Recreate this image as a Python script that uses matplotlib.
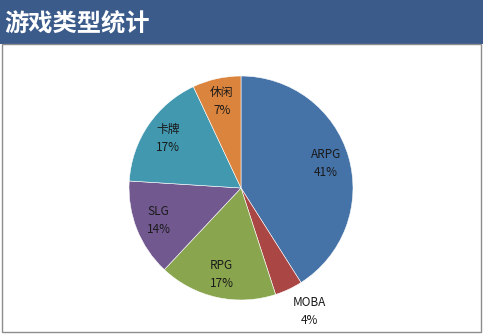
import numpy as np
import matplotlib.pyplot as plt
from matplotlib.patches import Rectangle

plt.rcParams['font.family'] = ['Noto Sans CJK SC', 'DejaVu Sans']

categories = ['ARPG', 'MOBA', 'RPG', 'SLG', '卡牌', '休闲']
shares = [41, 4, 17, 14, 17, 7]
colors = ['#4572A7', '#AA4643', '#89A54E', '#71588F', '#4198AF', '#DB843D']

W, H = 483, 334
fig = plt.figure(figsize=(W / 100, H / 100), dpi=100)
fig.patch.set_facecolor('white')

# header bar and frame around the plot area
fig.patches.append(Rectangle((0, (H - 44) / H), 1, 44 / H, transform=fig.transFigure,
                             facecolor='#3B5B8B', edgecolor='none'))
fig.patches.append(Rectangle((2 / W, 2 / H), (W - 4) / W, (H - 46) / H, transform=fig.transFigure,
                             facecolor='none', edgecolor='#8C8C8C', linewidth=1))
fig.text(4 / W, (H - 23) / H, '游戏类型统计', color='white', fontsize=17.5, fontweight='bold',
         va='center', ha='left')

cx, cy, r = 241, 188, 112
ax = fig.add_axes([(cx - r) / W, (H - cy - r) / H, 2 * r / W, 2 * r / H])
ax.pie(shares, colors=colors, startangle=90, counterclock=False, radius=1,
       wedgeprops=dict(edgecolor='white', linewidth=0.4))
ax.set_xlim(-1, 1)
ax.set_ylim(-1, 1)
ax.set_aspect('equal')
ax.axis('off')

# labels: inside the slice, small slices get pushed outside
total = sum(shares)
start = 90.0
for name, v in zip(categories, shares):
    span = 360.0 * v / total
    mid = start - span / 2
    start -= span
    if v < 5:
        dist, mid = 1.26, mid + 4
    else:
        dist = 0.79
    a = np.deg2rad(mid)
    ax.text(dist * np.cos(a), dist * np.sin(a), f'{name}\n{v}%', ha='center', va='center',
            fontsize=8.5, color='#1A1A1A', linespacing=1.5)

fig.savefig('out.png', dpi=100)
